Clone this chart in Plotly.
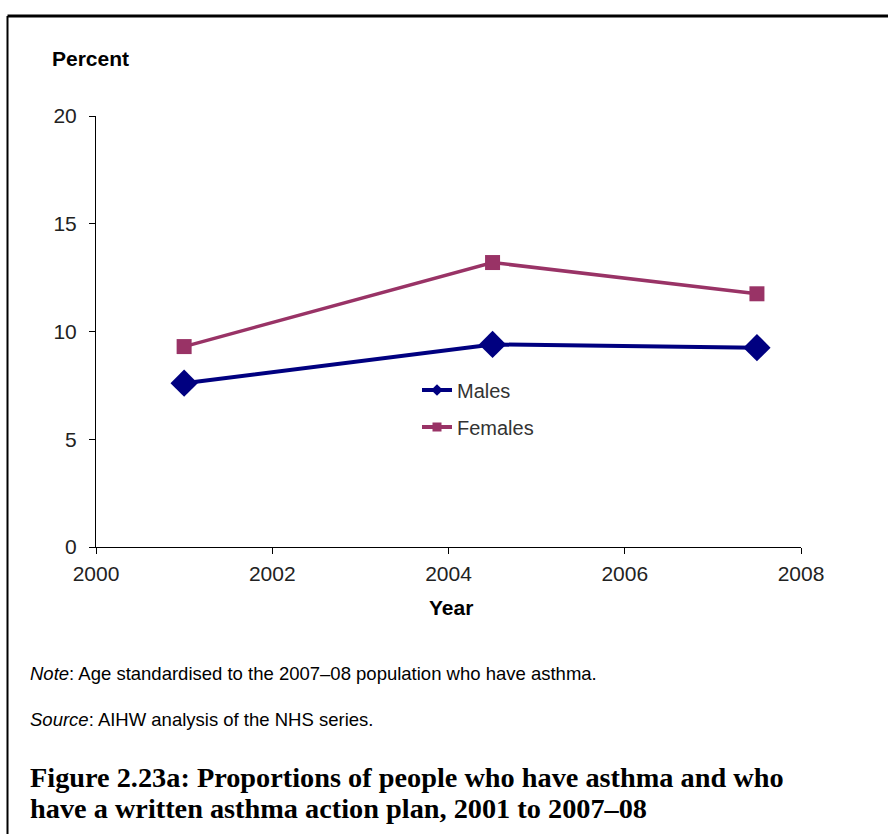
import plotly.graph_objects as go

# ---- data ----
years = [2001, 2004.5, 2007.5]
males = [7.6, 9.4, 9.25]
females = [9.3, 13.2, 11.75]
series_names = ["Males", "Females"]
x_ticks = [2000, 2002, 2004, 2006, 2008]
y_ticks = [0, 5, 10, 15, 20]

W, H = 888, 834
L, R, T, B = 96, 801, 116, 547  # plot area in pixels


def px(x):
    return (x - L) / (R - L)


def py(y):
    return (B - y) / (B - T)


NAVY = "#000080"
PLUM = "#993366"
FONT = "Liberation Sans, Arial, sans-serif"
SERIF = "Liberation Serif, Times New Roman, serif"

fig = go.Figure()
fig.add_trace(go.Scatter(x=years, y=males, mode="lines+markers", name=series_names[0],
                         line=dict(color=NAVY, width=4),
                         marker=dict(symbol="diamond", size=21, color=NAVY),
                         showlegend=False, cliponaxis=False))
fig.add_trace(go.Scatter(x=years, y=females, mode="lines+markers", name=series_names[1],
                         line=dict(color=PLUM, width=3.5),
                         marker=dict(symbol="square", size=15, color=PLUM),
                         showlegend=False, cliponaxis=False))
# legend entries (separate legends to control spacing)
fig.add_trace(go.Scatter(x=[None], y=[None], mode="lines+markers", name=series_names[0],
                         line=dict(color=NAVY, width=4),
                         marker=dict(symbol="diamond", size=9, color=NAVY),
                         legend="legend"))
fig.add_trace(go.Scatter(x=[None], y=[None], mode="lines+markers", name=series_names[1],
                         line=dict(color=PLUM, width=4),
                         marker=dict(symbol="square", size=9, color=PLUM),
                         legend="legend2"))

axis_common = dict(showgrid=False, zeroline=False, showline=True, linecolor="black",
                   linewidth=1, ticks="outside", ticklen=6, tickcolor="black",
                   tickfont=dict(family=FONT, size=21, color="#222"))

fig.update_layout(
    width=W, height=H,
    margin=dict(l=L, r=W - R, t=T, b=H - B),
    paper_bgcolor="white", plot_bgcolor="white",
    xaxis=dict(range=[2000, 2008], tickvals=x_ticks, ticklabelstandoff=2, **axis_common),
    yaxis=dict(range=[0, 20], tickvals=y_ticks, ticklabelstandoff=8, **axis_common),
    legend=dict(x=px(417), y=py(390), xanchor="left", yanchor="middle",
                bgcolor="rgba(0,0,0,0)", font=dict(family=FONT, size=20, color="#333")),
    legend2=dict(x=px(417), y=py(427), xanchor="left", yanchor="middle",
                 bgcolor="rgba(0,0,0,0)", font=dict(family=FONT, size=20, color="#333")),
    showlegend=True,
)

annotations = [
    dict(text="<b>Percent</b>", x=px(50), y=py(59), xanchor="left", yanchor="middle",
         font=dict(family=FONT, size=21, color="black")),
    dict(text="<b>Year</b>", x=px(451), y=py(607), xanchor="center", yanchor="middle",
         font=dict(family=FONT, size=21, color="black")),
    dict(text="<i>Note</i>: Age standardised to the 2007–08 population who have asthma.",
         x=px(28), y=py(673), xanchor="left", yanchor="middle",
         font=dict(family=FONT, size=18.5, color="black")),
    dict(text="<i>Source</i>: AIHW analysis of the NHS series.",
         x=px(28), y=py(719), xanchor="left", yanchor="middle",
         font=dict(family=FONT, size=18.5, color="black")),
    dict(text="<b>Figure 2.23a: Proportions of people who have asthma and who</b>",
         x=px(28), y=py(777), xanchor="left", yanchor="middle",
         font=dict(family=SERIF, size=28.3, color="black")),
    dict(text="<b>have a written asthma action plan, 2001 to 2007–08</b>",
         x=px(28), y=py(808), xanchor="left", yanchor="middle",
         font=dict(family=SERIF, size=28.3, color="black")),
]
for a in annotations:
    a.update(xref="paper", yref="paper", showarrow=False)
fig.update_layout(annotations=annotations)

# frame: top and left border
fig.add_shape(type="line", xref="paper", yref="paper", x0=px(7.5), x1=px(888),
              y0=py(16), y1=py(16), line=dict(color="black", width=3))
fig.add_shape(type="line", xref="paper", yref="paper", x0=px(7.5), x1=px(7.5),
              y0=py(16), y1=py(834), line=dict(color="black", width=2))

fig.write_html(
    "out.html", config={"displayModeBar": False},
    post_script=("document.documentElement.style.margin='0';"
                 "document.documentElement.style.overflow='hidden';"
                 "document.body.style.margin='0';document.body.style.overflow='hidden';"))
